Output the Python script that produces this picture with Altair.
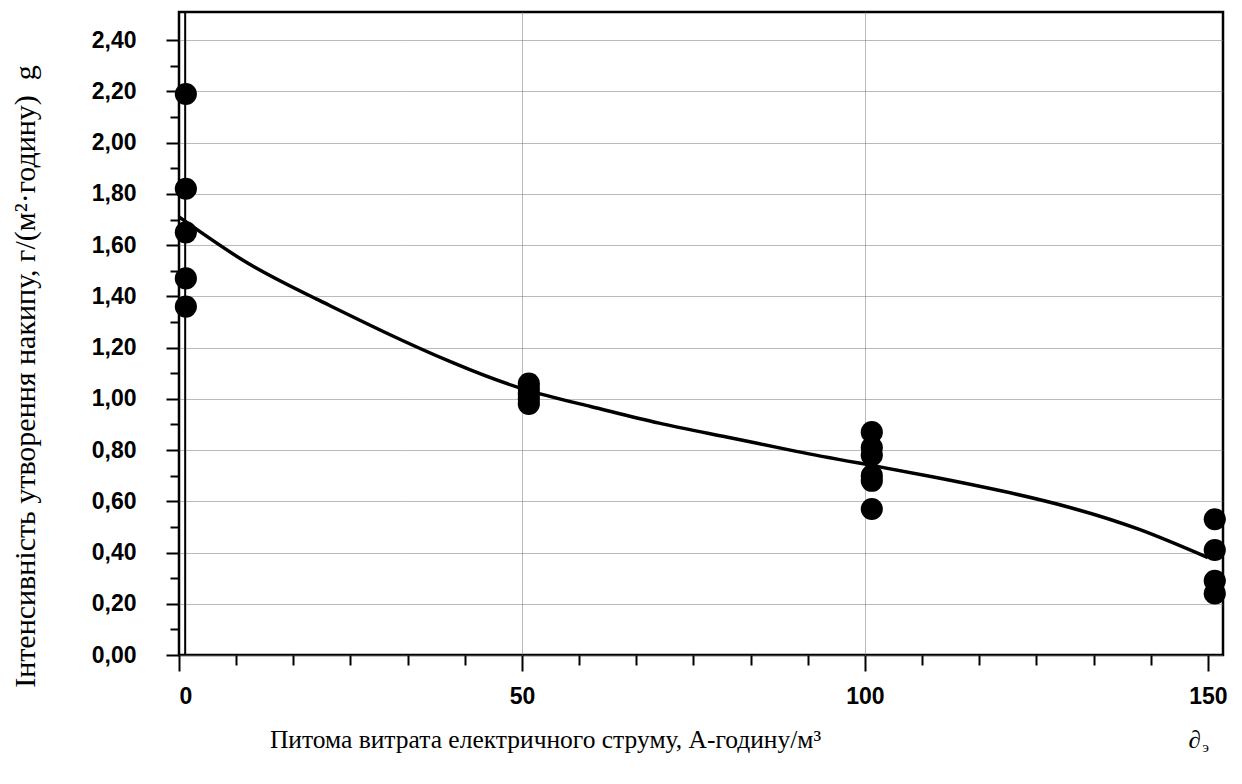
import altair as alt
import pandas as pd

# measured points
pt_x = [1, 1, 1, 1, 1,
        51, 51, 51, 51, 51,
        101, 101, 101, 101, 101, 101,
        151, 151, 151, 151]
pt_y = [2.19, 1.82, 1.65, 1.47, 1.36,
        1.06, 1.04, 1.02, 1.00, 0.98,
        0.87, 0.81, 0.78, 0.70, 0.68, 0.57,
        0.53, 0.41, 0.29, 0.24]

# fitted curve
curve_x = [0, 10, 20, 30, 40, 50, 60, 70, 80, 90, 100, 110, 120, 130, 140, 150]
curve_y = [1.71, 1.53, 1.39, 1.26, 1.14, 1.04, 0.97, 0.905, 0.85, 0.795,
           0.745, 0.695, 0.64, 0.575, 0.49, 0.38]

# inner vertical line
vline_x = [0.9]

x_major = [0, 50, 100, 150]
x_minor = [8.333, 16.667, 25, 33.333, 41.667,
           58.333, 66.667, 75, 83.333, 91.667,
           108.333, 116.667, 125, 133.333, 141.667]
x_grid = [50, 100]
y_major = [0.0, 0.2, 0.4, 0.6, 0.8, 1.0, 1.2, 1.4, 1.6, 1.8, 2.0, 2.2, 2.4]
y_minor = [0.1, 0.3, 0.5, 0.7, 0.9, 1.1, 1.3, 1.5, 1.7, 1.9, 2.1, 2.3]

x_title = "Питома витрата електричного струму, А-годину/м³"
y_title = "Інтенсивність утворення накипу, г/(м²·годину)\u00a0\u00a0g"

X_DOMAIN = [0, 152.2]
Y_DOMAIN = [0, 2.51]

pts = pd.DataFrame({"x": pt_x, "y": pt_y})
crv = pd.DataFrame({"x": curve_x, "y": curve_y})
vln = pd.DataFrame({"x": vline_x})

SANS = "Liberation Sans"
SERIF = "Liberation Serif"
xs = alt.Scale(domain=X_DOMAIN, nice=False, zero=False)
ys = alt.Scale(domain=Y_DOMAIN, nice=False, zero=False)

points = alt.Chart(pts).mark_point(
    filled=True, shape="circle", size=490, color="black", opacity=1
).encode(
    x=alt.X("x:Q", scale=xs, axis=alt.Axis(
        orient="bottom", values=x_major, grid=False, domain=False,
        tickSize=16, tickWidth=2, tickColor="black",
        labelFont=SANS, labelFontWeight="bold", labelFontSize=23, labelColor="black",
        labelPadding=14, labelExpr="format(datum.value, 'd')",
        title=x_title, titleFont=SERIF, titleFontWeight="normal", titleFontSize=25.5,
        titleColor="black", titleX=366, titleY=92, titleAlign="center",
        titleBaseline="alphabetic")),
    y=alt.Y("y:Q", scale=ys, axis=alt.Axis(
        orient="left", values=y_major, grid=True, gridColor="#777777",
        gridDash=[1, 1], gridWidth=1, domain=False,
        tickSize=13, tickWidth=2, tickColor="black",
        labelFont=SANS, labelFontWeight="bold", labelFontSize=23, labelColor="black",
        labelPadding=30,
        labelExpr="replace(format(datum.value, '.2f'), '.', ',')",
        title=y_title, titleFont=SERIF, titleFontWeight="normal", titleFontSize=30,
        titleColor="black", titleAngle=270, titleX=-145, titleY=364,
        titleAlign="center", titleBaseline="alphabetic")),
)

curve = alt.Chart(crv).mark_line(
    color="black", strokeWidth=3.5, interpolate="natural"
).encode(
    x=alt.X("x:Q", scale=xs, axis=alt.Axis(
        orient="bottom", values=x_minor, grid=False, domain=False, labels=False,
        tickSize=10, tickWidth=2, tickColor="black",
        title="∂", titleFont=SERIF, titleFontStyle="italic", titleFontWeight="normal",
        titleFontSize=25, titleColor="black", titleX=1009, titleY=92,
        titleAlign="left", titleBaseline="alphabetic")),
    y=alt.Y("y:Q", scale=ys, axis=alt.Axis(
        orient="left", values=y_minor, grid=False, domain=False, labels=False,
        tickSize=9, tickWidth=2, tickColor="black", title=None)),
)

vline = alt.Chart(vln).mark_rule(color="black", strokeWidth=2).encode(
    x=alt.X("x:Q", scale=xs, axis=alt.Axis(
        orient="bottom", values=x_grid, grid=True, gridColor="#777777",
        gridDash=[1, 1], gridWidth=1, domain=False, labels=False, ticks=False,
        title="э", titleFont=SERIF, titleFontWeight="normal", titleFontSize=15,
        titleColor="black", titleX=1023, titleY=96,
        titleAlign="left", titleBaseline="alphabetic")),
)

chart = alt.layer(vline, curve, points).resolve_axis(
    x="independent", y="independent"
).properties(
    width=1044, height=643,
    autosize=alt.AutoSizeParams(type="none"),
    padding={"left": 171, "top": 4, "right": 10, "bottom": 110},
    background="white",
).configure_view(stroke="black", strokeWidth=2.5)

chart.save("out.html", embed_options={"renderer": "svg", "actions": False})
